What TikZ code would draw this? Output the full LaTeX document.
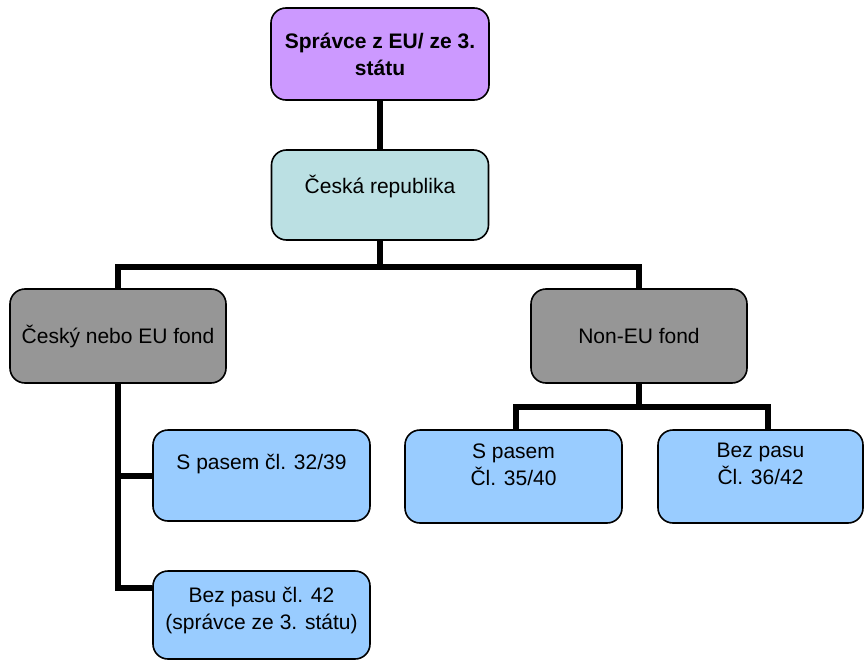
\documentclass[tikz,border=0pt]{standalone}
\usepackage{fontspec}
\setmainfont{Liberation Sans}
\usetikzlibrary{positioning}
\definecolor{fialova}{HTML}{CC99FF}
\definecolor{tyrkys}{HTML}{BBE0E3}
\definecolor{seda}{HTML}{969696}
\definecolor{modra}{HTML}{99CCFF}

\begin{document}
\begin{tikzpicture}[x=1pt, y=-1pt,
    box/.style = {draw, line width=1.6pt, rounded corners=15pt, align=center,
        minimum width=217pt, minimum height=91pt, inner sep=2pt,
        font=\fontsize{21}{27}\selectfont},
    link/.style = {line width=6pt}]
    \useasboundingbox (0,0) rectangle (865,661);

    \node[box, fill=fialova, minimum width=218pt, minimum height=92pt,
        font=\fontsize{21}{27}\selectfont\bfseries] (spravce) at (380,54)
        {Správce z EU/ ze 3.\\státu};
    \node[box, fill=tyrkys, minimum height=90pt] (cr) at (380,195)
        {Česká republika\\[-6.5pt]\mbox{}};
    \node[box, fill=seda, minimum width=216pt, minimum height=94pt] (cesky) at (118,336)
        {Český nebo EU fond};
    \node[box, fill=seda, minimum width=216pt, minimum height=94pt] (noneu) at (639,336)
        {Non-EU fond};
    \node[box, fill=modra] (sp1) at (261.5,475.5)
        {S pasem čl. 32/39\\[-0.5pt]\mbox{}};
    \node[box, fill=modra, minimum height=88pt] (bp1) at (261.5,615)
        {Bez pasu čl. 42\\(správce ze 3. státu)\\[-14.5pt]\mbox{}};
    \node[box, fill=modra, minimum height=93pt] (sp2) at (513.5,476.5)
        {S pasem\\Čl. 35/40\\[-2.5pt]\mbox{}};
    \node[box, fill=modra, minimum width=205pt, minimum height=93pt] (bp2) at (760.5,476.5)
        {Bez pasu\\Čl. 36/42\\[-2.5pt]\mbox{}};

    % spojnice
    \draw[link] (spravce.south) -- (cr.north);
    \draw[link] (cr.south) -- ++(0,26) coordinate (rozcesti);
    \draw[link] (cesky.north) |- (rozcesti) -| (noneu.north);
    \draw[link] (cesky.south) |- ([yshift=27pt]bp1.west);
    \draw[link] (cesky.south |- sp1.west) -- (sp1.west);
    \draw[link] (noneu.south) -- ++(0,23) coordinate (rozcesti2);
    \draw[link] ([xshift=2pt]sp2.north) |- (rozcesti2) -| ([xshift=7pt]bp2.north);
\end{tikzpicture}
\end{document}
